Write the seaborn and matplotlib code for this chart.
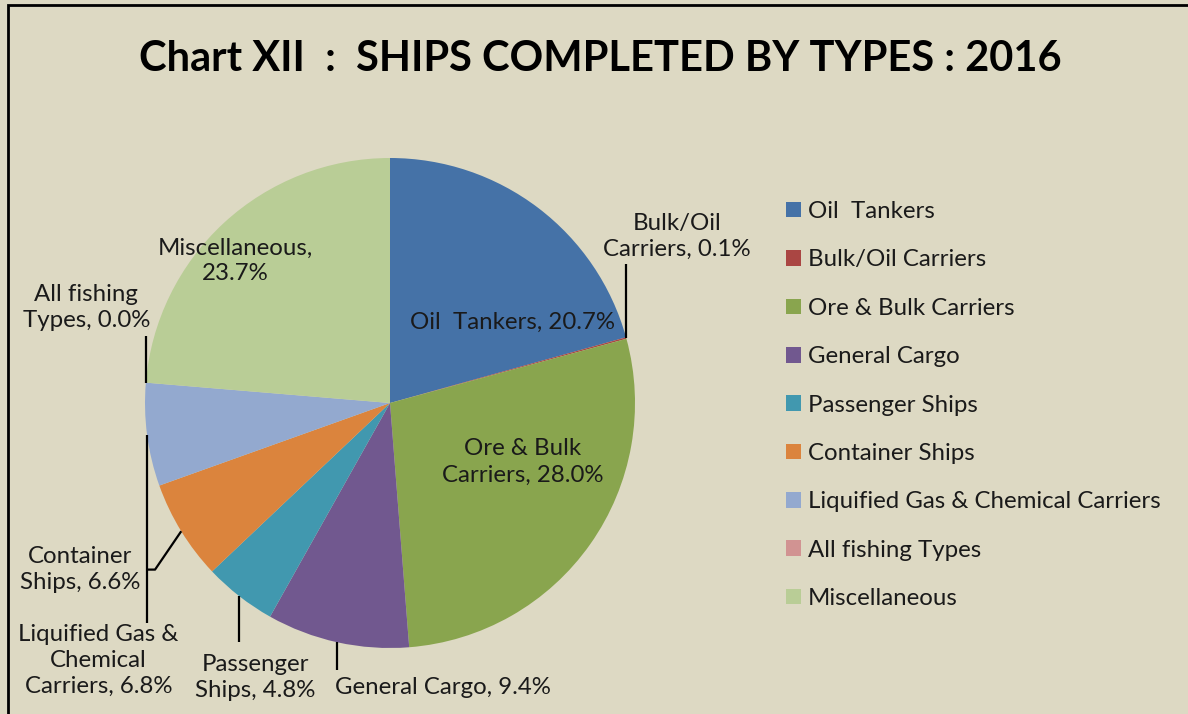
import numpy as np
import seaborn as sns
import matplotlib.pyplot as plt
from matplotlib.patches import Rectangle

# data
ship_types = ['Oil  Tankers', 'Bulk/Oil Carriers', 'Ore & Bulk Carriers', 'General Cargo',
              'Passenger Ships', 'Container Ships', 'Liquified Gas & Chemical Carriers',
              'All fishing Types', 'Miscellaneous']
shares = [20.7, 0.1, 28.0, 9.4, 4.8, 6.6, 6.8, 0.0, 23.7]
label_texts = ['Oil  Tankers, 20.7%', 'Bulk/Oil\nCarriers, 0.1%', 'Ore & Bulk\nCarriers, 28.0%',
               'General Cargo, 9.4%', 'Passenger\nShips, 4.8%', 'Container\nShips, 6.6%',
               'Liquified Gas &\nChemical\nCarriers, 6.8%', 'All fishing\nTypes, 0.0%',
               'Miscellaneous,\n23.7%']
slice_colors = ['#4572A7', '#AA4643', '#89A54E', '#71588F', '#4198AF',
                '#DB843D', '#93A9CF', '#D19392', '#B9CD96']

# label layout (units of pie radius) and leader line ends (None = inside slice)
label_pos = [(0.50, 0.33), (1.17, 0.68), (0.54, -0.24), (0.216, -1.163), (-0.55, -1.12),
             (-1.265, -0.68), (-1.19, -1.05), (-1.24, 0.39), (-0.63, 0.58)]
leader_end = [None, 0.567, None, -1.09, -0.976, 'elbow', -0.898, 0.273, None]

BG = '#DDD9C3'
FS = 17.3
sns.set_theme(style='white')
plt.rcParams['font.family'] = ['Lato', 'DejaVu Sans']

fig = plt.figure(figsize=(11.88, 7.14), dpi=100, facecolor=BG)
W, H = 1188, 714
cx, cy, r = 390, 403, 245
ax = fig.add_axes([(cx - r) / W, (H - cy - r) / H, 2 * r / W, 2 * r / H])
ax.set_facecolor(BG)

pal = sns.color_palette(slice_colors)
wedges, _ = ax.pie(shares, colors=pal, startangle=90, counterclock=False,
                   wedgeprops=dict(linewidth=0))
ax.set_xlim(-1, 1)
ax.set_ylim(-1, 1)
ax.axis('off')

for w, txt, pos, end in zip(wedges, label_texts, label_pos, leader_end):
    ax.text(pos[0], pos[1], txt, ha='center', va='center', fontsize=FS,
            color='#1a1a1a', linespacing=1.3, clip_on=False)
    if end is None:
        continue
    mid = np.deg2rad((w.theta1 + w.theta2) / 2)
    x0, y0 = np.cos(mid), np.sin(mid)
    if end == 'elbow':
        xs, ys = [x0, -0.959, -0.992], [y0, pos[1], pos[1]]
    else:
        xs, ys = [x0, x0], [y0, end]
    ax.plot(xs, ys, color='black', lw=1.6, clip_on=False, solid_capstyle='butt')

fig.legend(wedges, ship_types, loc='upper left', bbox_to_anchor=(786 / W, 1 - 201 / H),
           frameon=False, fontsize=FS, handlelength=0.62, handleheight=0.62,
           handletextpad=0.3, labelspacing=1.14, borderaxespad=0, borderpad=0,
           labelcolor='#1a1a1a')

fig.text(600 / W, 1 - 59 / H, 'Chart XII  :  SHIPS COMPLETED BY TYPES : 2016',
         ha='center', va='center', fontsize=30, fontweight='bold', color='black')

fig.patches.append(Rectangle((8 / W, -0.1), 1.2, 1.1 - 5 / H, transform=fig.transFigure,
                             fill=False, edgecolor='black', lw=2))

fig.savefig('out.png', dpi=100, facecolor=BG)
